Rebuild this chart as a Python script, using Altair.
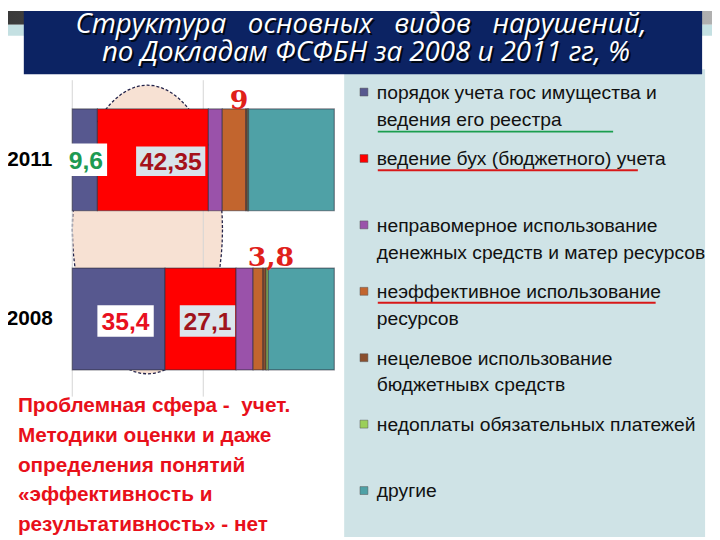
import math
import altair as alt
import pandas as pd

# ---------------- data ----------------
years = ["2011", "2008"]
categories = [
    "порядок учета гос имущества и\nведения его реестра",
    "ведение бух (бюджетного) учета",
    "неправомерное использование\nденежных средств и матер ресурсов",
    "неэффективное использование\nресурсов",
    "нецелевое использование\nбюджетнывх средств",
    "недоплаты обязательных платежей",
    "другие",
]
values_2011 = [9.6, 42.35, 5.3, 9.0, 0.6, 0.4, 32.75]
values_2008 = [35.4, 27.1, 6.5, 3.8, 1.2, 0.8, 25.2]
colors = ["#57588f", "#ff0000", "#9a52aa", "#c2652e", "#8a4f2e", "#9bcf5a", "#4fa1a6"]

title_line1 = "Структура\u00a0\u00a0 основных\u00a0\u00a0 видов\u00a0\u00a0 нарушений,"
title_line2 = "по Докладам ФСФБН за 2008 и 2011 гг, %"
note_text = ("Проблемная сфера -\u00a0 учет.\nМетодики оценки и даже\nопределения понятий\n"
             "«эффективность и\nрезультативность» - нет")

# ---------------- derived table ----------------
rows = []
for year, vals in (("2011", values_2011), ("2008", values_2008)):
    s = 0.0
    for i, (c, v) in enumerate(zip(categories, vals)):
        rows.append({"year": year, "cat": c, "idx": i, "value": v, "start": s, "end": s + v,
                     "mid": s + v / 2, "label": f"{v:g}".replace(".", ",")})
        s += v
df = pd.DataFrame(rows)
legend_df = pd.DataFrame({"cat": categories})
one = pd.DataFrame({"a": [0]})

SANS = "Liberation Sans, Arial, sans-serif"

xscale = alt.Scale(domain=[0, 100], range=[65, 330], nice=False, zero=False)
yscale = alt.Scale(type="band", domain=years, range=[99, 363], paddingInner=0.36, paddingOuter=0)
cscale = alt.Scale(domain=categories, range=colors)
lscale = alt.Scale(type="point", domain=categories, range=[82, 485], padding=0)


def box(x, x2, y, y2, color):
    return alt.Chart(one).mark_rect(color=color).encode(
        x=alt.value(x), x2=alt.value(x2), y=alt.value(y), y2=alt.value(y2))


def hline(x, x2, y, color):
    return alt.Chart(one).mark_rule(color=color, strokeWidth=2).encode(
        x=alt.value(x), x2=alt.value(x2), y=alt.value(y))


grey_grad = alt.Gradient(gradient="linear",
                         stops=[alt.GradientStop(color="#3a3a3a", offset=0),
                                alt.GradientStop(color="#b0b0b0", offset=1)],
                         x1=0, x2=1, y1=0, y2=0)
grey_band = alt.Chart(one).mark_rect(color=grey_grad).encode(
    x=alt.value(0), x2=alt.value(712), y=alt.value(0), y2=alt.value(14))
teal_band = box(0, 712, 14, 25, "#c4e0e2")
panel = box(340, 705, 59, 532, "#cfe3e6")
banner = box(16, 702, 0, 64, "#0c2363")

title_layers = []
for txt, xc, yb in ((title_line1, 357, 22), (title_line2, 362, 51)):
    for col, off in (("#000814", 2), ("white", 0)):
        title_layers.append(
            alt.Chart(one).mark_text(text=txt, color=col, font="Open Sans, DejaVu Sans",
                                     fontStyle="italic", fontSize=28, align="center",
                                     baseline="alphabetic", xOffset=off, yOffset=off)
            .encode(x=alt.value(xc), y=alt.value(yb)))

# ellipse (decoration) behind bars, drawn as a polygon outline
pts = []
for k in range(72):
    t = 2 * math.pi * k / 72
    pts.append(f"{0.52 * math.cos(t):.4f} {math.sin(t):.4f}")
ellipse_path = "M " + " L ".join(pts) + " Z"
ellipse = alt.Chart(one).mark_point(shape=ellipse_path, filled=True, fill="#f7e1d3",
                                    stroke="#23234a", strokeWidth=1.3, strokeDash=[3, 2],
                                    size=85264, opacity=1).encode(
    x=alt.value(141), y=alt.value(221))

grid = alt.Chart(pd.DataFrame({"x": [0, 50]})).mark_rule(color="#d4d4d4").encode(
    x=alt.X("x:Q", scale=xscale, axis=None), y=alt.value(70), y2=alt.value(390))

bars = alt.Chart(df).mark_rect(stroke="#2b2b3a", strokeWidth=1.2, strokeOpacity=0.55).encode(
    x=alt.X("start:Q", scale=xscale, axis=None),
    x2="end:Q",
    y=alt.Y("year:N", scale=yscale, axis=None),
    color=alt.Color("cat:N", scale=cscale, legend=None),
)

year_labels = alt.Chart(pd.DataFrame({"year": years})).mark_text(
    font=SANS, fontWeight="bold", fontSize=21, color="black", align="center",
    baseline="middle").encode(x=alt.value(22), y=alt.Y("year:N", scale=yscale, axis=None),
                              text="year:N")

# boxed value labels: (year, category index, text colour, box colour, xOffset, yOffset, w, h)
boxed = [
    ("2011", 0, "#1d9a52", "#ffffff", 1, 0, 43, 33),
    ("2011", 1, "#a5121a", "#d8e4ea", 18, 1.5, 70, 30),
    ("2008", 0, "#e81020", "#ffffff", 7, 2, 57, 32),
    ("2008", 1, "#a0141c", "#dce6ec", 7, 2, 56, 32),
]
label_layers = []
for yr, ci, tcol, bcol, xo, yo, w, h in boxed:
    sub = df[(df.year == yr) & (df.idx == ci)]
    r = h / w
    path = f"M -1 {-r} L 1 {-r} L 1 {r} L -1 {r} Z"
    enc = dict(x=alt.X("mid:Q", scale=xscale, axis=None),
               y=alt.Y("year:N", scale=yscale, axis=None))
    label_layers.append(alt.Chart(sub).mark_point(shape=path, filled=True, fill=bcol,
                                                  strokeWidth=0, size=w * w, opacity=1,
                                                  xOffset=xo, yOffset=yo).encode(**enc))
    label_layers.append(alt.Chart(sub).mark_text(font=SANS, fontWeight="bold", fontSize=25,
                                                 color=tcol, align="center", baseline="middle",
                                                 xOffset=xo, yOffset=yo + 1)
                        .encode(text="label:N", **enc))

# labels above the orange segments
for yr, xo, yo in (("2011", 5, -51.5), ("2008", 13, -53.5)):
    sub = df[(df.year == yr) & (df.idx == 3)]
    label_layers.append(alt.Chart(sub).mark_text(font="DejaVu Serif, Liberation Serif",
                                                 fontWeight="bold", fontSize=27, color="#e0201a",
                                                 align="center", baseline="alphabetic",
                                                 xOffset=xo, yOffset=yo)
                        .encode(x=alt.X("mid:Q", scale=xscale, axis=None),
                                y=alt.Y("year:N", scale=yscale, axis=None), text="label:N"))

# legend
leg_sq = alt.Chart(legend_df).mark_square(size=64, opacity=1, stroke="#555", strokeWidth=0.5).encode(
    x=alt.value(360), y=alt.Y("cat:N", scale=lscale, axis=None),
    color=alt.Color("cat:N", scale=cscale, legend=None))
leg_txt = alt.Chart(legend_df).mark_text(font=SANS, fontSize=19.5, color="#111111", align="left",
                                         baseline="alphabetic", lineBreak="\n", lineHeight=27,
                                         yOffset=7).encode(
    x=alt.value(373), y=alt.Y("cat:N", scale=lscale, axis=None), text="cat:N")

underlines = [hline(374, 612, 122, "#1a9e4e"), hline(374, 637, 161, "#d81818"),
              hline(374, 655, 295, "#d81818")]

note = alt.Chart(one).mark_text(text=note_text, font=SANS, fontWeight="bold", fontSize=21,
                                color="#e8101a", align="left", baseline="alphabetic",
                                lineBreak="\n", lineHeight=30).encode(
    x=alt.value(10), y=alt.value(406))

chart = alt.layer(
    grey_band, teal_band, panel, banner, *title_layers,
    ellipse, grid, bars, year_labels, *label_layers,
    leg_sq, leg_txt, *underlines, note,
).resolve_scale(y="independent").properties(
    width=712, height=532, autosize=alt.AutoSizeParams(type="none"), padding=0,
    background="white",
).configure_view(stroke=None)

chart.save("out.html", embed_options={"renderer": "svg", "actions": False})
